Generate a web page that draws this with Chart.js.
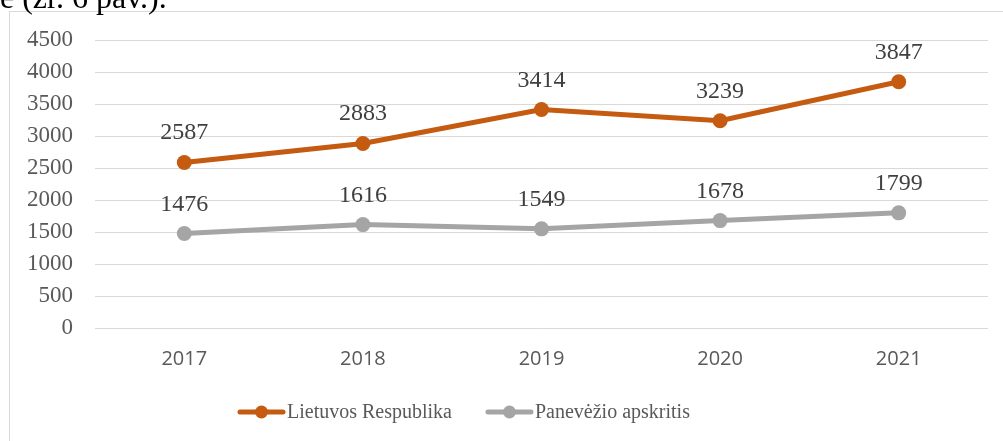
<!DOCTYPE html>
<html>
<head>
<meta charset="utf-8">
<script src="https://cdn.jsdelivr.net/npm/chart.js@4/dist/chart.umd.min.js"></script>
<style>
  html, body { margin: 0; padding: 0; background: #fff; overflow: hidden; }
  #wrap { position: relative; width: 1003px; height: 441px; }
  #cap { position: absolute; left: 0; top: -19px; font: 32px "Liberation Serif", serif; line-height: 1; color: #000; white-space: nowrap; }
  canvas { position: absolute; left: 0; top: 0; }
</style>
</head>
<body>
<div id="wrap">
  <canvas id="c" width="1003" height="441"></canvas>
  <div id="cap">e (žr. 6 pav.).</div>
</div>
<script>
const categories = ['2017', '2018', '2019', '2020', '2021'];
const lietuvos = [2587, 2883, 3414, 3239, 3847];
const panevezio = [1476, 1616, 1549, 1678, 1799];
const seriesNames = ['Lietuvos Respublika', 'Panevėžio apskritis'];
const seriesColors = ['#C55A11', '#A5A5A5'];
const yTicks = [0, 500, 1000, 1500, 2000, 2500, 3000, 3500, 4000, 4500];

const SERIF = '"Liberation Serif", "Times New Roman", serif';
const SANS = '"Open Sans", "Liberation Sans", sans-serif';

const frame = {
  id: 'frame',
  beforeDraw(chart) {
    const ctx = chart.ctx;
    ctx.save();
    ctx.fillStyle = '#fff';
    ctx.fillRect(0, 0, chart.width, chart.height);
    ctx.strokeStyle = '#d9d9d9';
    ctx.lineWidth = 1;
    ctx.strokeRect(9.5, 11.5, 1200, 600);
    ctx.restore();
  }
};

const dataLabels = {
  id: 'dataLabels',
  afterDatasetsDraw(chart) {
    const ctx = chart.ctx;
    ctx.save();
    ctx.font = '24px ' + SERIF;
    ctx.fillStyle = '#404040';
    ctx.textAlign = 'center';
    ctx.textBaseline = 'alphabetic';
    chart.data.datasets.forEach((ds, i) => {
      const meta = chart.getDatasetMeta(i);
      meta.data.forEach((el, j) => {
        ctx.fillText(String(ds.data[j]), el.x, el.y - 23);
      });
    });
    ctx.restore();
  }
};

const customLegend = {
  id: 'customLegend',
  afterDraw(chart) {
    const ctx = chart.ctx;
    ctx.save();
    ctx.font = '20px ' + SERIF;
    ctx.textBaseline = 'middle';
    let x = 238;
    const y = 412;
    chart.data.datasets.forEach((ds) => {
      ctx.strokeStyle = ds.borderColor;
      ctx.lineWidth = 5;
      ctx.lineCap = 'round';
      ctx.beginPath();
      ctx.moveTo(x + 2, y);
      ctx.lineTo(x + 45, y);
      ctx.stroke();
      ctx.fillStyle = ds.borderColor;
      ctx.beginPath();
      ctx.arc(x + 23.5, y, 6.5, 0, Math.PI * 2);
      ctx.fill();
      ctx.fillStyle = '#595959';
      ctx.textAlign = 'left';
      ctx.fillText(ds.label, x + 49, y + 1);
      x += 49 + ctx.measureText(ds.label).width + 34;
    });
    ctx.restore();
  }
};

new Chart(document.getElementById('c'), {
  type: 'line',
  data: {
    labels: categories,
    datasets: [
      { label: seriesNames[0], data: lietuvos, borderColor: seriesColors[0], backgroundColor: seriesColors[0],
        borderWidth: 5, pointRadius: 7.5, pointHoverRadius: 7.5, pointBorderWidth: 0, tension: 0 },
      { label: seriesNames[1], data: panevezio, borderColor: seriesColors[1], backgroundColor: seriesColors[1],
        borderWidth: 5, pointRadius: 7.5, pointHoverRadius: 7.5, pointBorderWidth: 0, tension: 0 }
    ]
  },
  options: {
    responsive: false,
    animation: false,
    events: [],
    layout: { padding: { top: 40, right: 15, left: 0, bottom: 0 } },
    plugins: { legend: { display: false }, tooltip: { enabled: false }, title: { display: false } },
    scales: {
      x: {
        offset: true,
        grid: { display: false, drawTicks: false },
        border: { display: false },
        ticks: { color: '#595959', font: { family: SANS, size: 20 }, padding: 19, maxRotation: 0 },
        afterFit(s) { s.height = 113; }
      },
      y: {
        min: 0, max: 4500,
        afterBuildTicks(s) { s.ticks = yTicks.map(v => ({ value: v })); },
        grid: { color: '#d9d9d9', lineWidth: 1, drawTicks: false },
        border: { display: false },
        ticks: { color: '#595959', font: { family: SERIF, size: 23 }, padding: 22,
                 callback: (v) => String(v) },
        afterFit(s) { s.width = 95; }
      }
    }
  },
  plugins: [frame, dataLabels, customLegend]
});
</script>
</body>
</html>
